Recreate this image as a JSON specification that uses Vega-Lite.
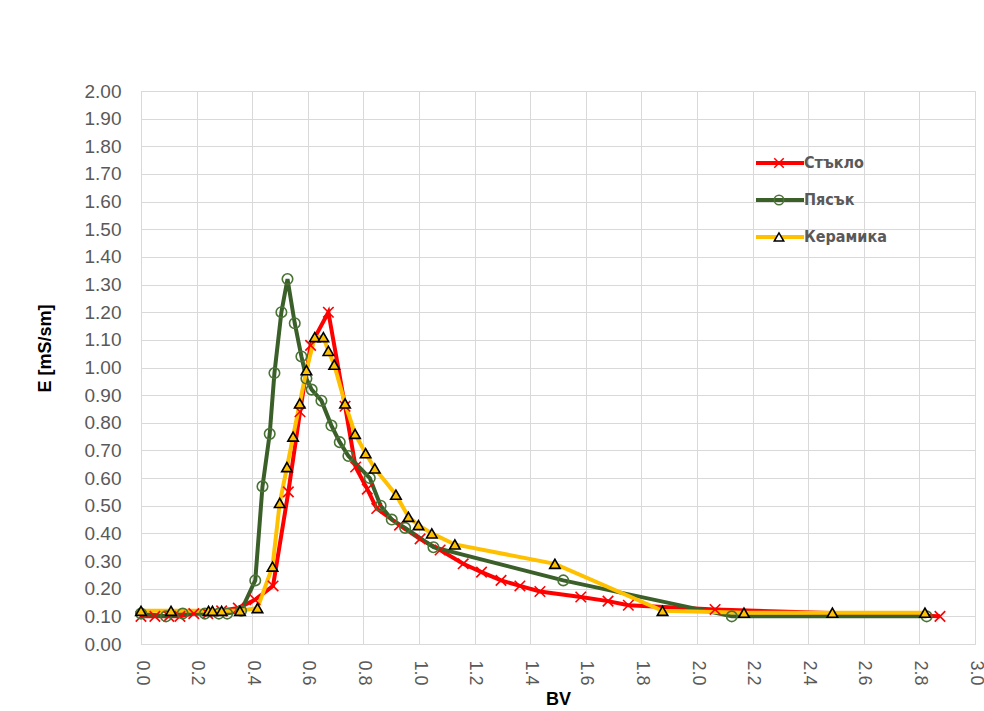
{
  "$schema": "https://vega.github.io/schema/vega-lite/v6.json",
  "width": 834,
  "height": 553,
  "autosize": {"type": "none"},
  "padding": {"left": 141, "top": 91, "right": 9, "bottom": 67},
  "background": "white",
  "config": {
    "view": {"stroke": "#D9D9D9", "strokeWidth": 1},
    "axis": {
      "grid": true,
      "gridColor": "#D9D9D9",
      "gridWidth": 1,
      "domain": false,
      "ticks": false,
      "labelFont": "Liberation Sans",
      "labelFontSize": 19,
      "labelColor": "#595959",
      "titleFont": "Liberation Sans",
      "titleFontWeight": "bold",
      "titleColor": "#000000"
    }
  },
  "data": {
    "values": [
      {"series": "Стъкло", "BV": 0.00, "E": 0.10},
      {"series": "Стъкло", "BV": 0.05, "E": 0.10},
      {"series": "Стъкло", "BV": 0.10, "E": 0.10},
      {"series": "Стъкло", "BV": 0.14, "E": 0.10},
      {"series": "Стъкло", "BV": 0.19, "E": 0.11},
      {"series": "Стъкло", "BV": 0.24, "E": 0.11},
      {"series": "Стъкло", "BV": 0.29, "E": 0.12},
      {"series": "Стъкло", "BV": 0.35, "E": 0.13},
      {"series": "Стъкло", "BV": 0.41, "E": 0.16},
      {"series": "Стъкло", "BV": 0.475, "E": 0.21},
      {"series": "Стъкло", "BV": 0.53, "E": 0.55},
      {"series": "Стъкло", "BV": 0.572, "E": 0.84},
      {"series": "Стъкло", "BV": 0.61, "E": 1.08},
      {"series": "Стъкло", "BV": 0.674, "E": 1.20},
      {"series": "Стъкло", "BV": 0.734, "E": 0.86},
      {"series": "Стъкло", "BV": 0.772, "E": 0.64},
      {"series": "Стъкло", "BV": 0.814, "E": 0.56},
      {"series": "Стъкло", "BV": 0.848, "E": 0.49},
      {"series": "Стъкло", "BV": 0.93, "E": 0.43},
      {"series": "Стъкло", "BV": 1.004, "E": 0.38},
      {"series": "Стъкло", "BV": 1.076, "E": 0.34},
      {"series": "Стъкло", "BV": 1.159, "E": 0.29},
      {"series": "Стъкло", "BV": 1.225, "E": 0.26},
      {"series": "Стъкло", "BV": 1.295, "E": 0.23},
      {"series": "Стъкло", "BV": 1.363, "E": 0.21},
      {"series": "Стъкло", "BV": 1.435, "E": 0.19},
      {"series": "Стъкло", "BV": 1.582, "E": 0.17},
      {"series": "Стъкло", "BV": 1.68, "E": 0.155},
      {"series": "Стъкло", "BV": 1.753, "E": 0.14},
      {"series": "Стъкло", "BV": 2.065, "E": 0.125},
      {"series": "Стъкло", "BV": 2.874, "E": 0.10},
      {"series": "Пясък", "BV": 0.00, "E": 0.11},
      {"series": "Пясък", "BV": 0.09, "E": 0.10},
      {"series": "Пясък", "BV": 0.15, "E": 0.11},
      {"series": "Пясък", "BV": 0.23, "E": 0.11},
      {"series": "Пясък", "BV": 0.28, "E": 0.11},
      {"series": "Пясък", "BV": 0.31, "E": 0.11},
      {"series": "Пясък", "BV": 0.36, "E": 0.12},
      {"series": "Пясък", "BV": 0.411, "E": 0.23},
      {"series": "Пясък", "BV": 0.437, "E": 0.57},
      {"series": "Пясък", "BV": 0.463, "E": 0.76},
      {"series": "Пясък", "BV": 0.48, "E": 0.98},
      {"series": "Пясък", "BV": 0.505, "E": 1.20},
      {"series": "Пясък", "BV": 0.527, "E": 1.32},
      {"series": "Пясък", "BV": 0.553, "E": 1.16},
      {"series": "Пясък", "BV": 0.577, "E": 1.04},
      {"series": "Пясък", "BV": 0.595, "E": 0.96},
      {"series": "Пясък", "BV": 0.614, "E": 0.92},
      {"series": "Пясък", "BV": 0.649, "E": 0.88},
      {"series": "Пясък", "BV": 0.685, "E": 0.79},
      {"series": "Пясък", "BV": 0.715, "E": 0.73},
      {"series": "Пясък", "BV": 0.746, "E": 0.68},
      {"series": "Пясък", "BV": 0.823, "E": 0.60},
      {"series": "Пясък", "BV": 0.862, "E": 0.50},
      {"series": "Пясък", "BV": 0.902, "E": 0.45},
      {"series": "Пясък", "BV": 0.95, "E": 0.42},
      {"series": "Пясък", "BV": 1.052, "E": 0.35},
      {"series": "Пясък", "BV": 1.519, "E": 0.23},
      {"series": "Пясък", "BV": 2.125, "E": 0.10},
      {"series": "Пясък", "BV": 2.826, "E": 0.10},
      {"series": "Керамика", "BV": 0.00, "E": 0.12},
      {"series": "Керамика", "BV": 0.108, "E": 0.12},
      {"series": "Керамика", "BV": 0.243, "E": 0.12},
      {"series": "Керамика", "BV": 0.257, "E": 0.12},
      {"series": "Керамика", "BV": 0.29, "E": 0.12},
      {"series": "Керамика", "BV": 0.356, "E": 0.12},
      {"series": "Керамика", "BV": 0.419, "E": 0.13},
      {"series": "Керамика", "BV": 0.473, "E": 0.28},
      {"series": "Керамика", "BV": 0.499, "E": 0.51},
      {"series": "Керамика", "BV": 0.525, "E": 0.64},
      {"series": "Керамика", "BV": 0.547, "E": 0.75},
      {"series": "Керамика", "BV": 0.571, "E": 0.87},
      {"series": "Керамика", "BV": 0.595, "E": 0.99},
      {"series": "Керамика", "BV": 0.625, "E": 1.11},
      {"series": "Керамика", "BV": 0.656, "E": 1.11},
      {"series": "Керамика", "BV": 0.674, "E": 1.06},
      {"series": "Керамика", "BV": 0.695, "E": 1.01},
      {"series": "Керамика", "BV": 0.734, "E": 0.87},
      {"series": "Керамика", "BV": 0.77, "E": 0.76},
      {"series": "Керамика", "BV": 0.808, "E": 0.69},
      {"series": "Керамика", "BV": 0.841, "E": 0.635},
      {"series": "Керамика", "BV": 0.917, "E": 0.54},
      {"series": "Керамика", "BV": 0.962, "E": 0.46},
      {"series": "Керамика", "BV": 0.998, "E": 0.43},
      {"series": "Керамика", "BV": 1.046, "E": 0.40},
      {"series": "Керамика", "BV": 1.129, "E": 0.36},
      {"series": "Керамика", "BV": 1.489, "E": 0.29},
      {"series": "Керамика", "BV": 1.876, "E": 0.12},
      {"series": "Керамика", "BV": 2.169, "E": 0.113},
      {"series": "Керамика", "BV": 2.487, "E": 0.113},
      {"series": "Керамика", "BV": 2.82, "E": 0.113}
    ]
  },
  "encoding": {
    "x": {
      "field": "BV",
      "type": "quantitative",
      "scale": {"domain": [0, 3], "nice": false, "zero": false},
      "axis": {
        "title": "BV",
        "values": [0, 0.2, 0.4, 0.6, 0.8, 1.0, 1.2, 1.4, 1.6, 1.8, 2.0, 2.2, 2.4, 2.6, 2.8, 3.0],
        "format": ".1f",
        "labelAngle": 90,
        "labelPadding": 16,
        "labelFontSize": 18,
        "labelFlush": false,
        "labelOverlap": false,
        "titleFontSize": 18,
        "titlePadding": 5
      }
    },
    "y": {
      "field": "E",
      "type": "quantitative",
      "scale": {"domain": [0, 2], "nice": false},
      "axis": {
        "title": "E [mS/sm]",
        "values": [0, 0.1, 0.2, 0.3, 0.4, 0.5, 0.6, 0.7, 0.8, 0.9, 1.0, 1.1, 1.2, 1.3, 1.4, 1.5, 1.6, 1.7, 1.8, 1.9, 2.0],
        "format": ".2f",
        "labelPadding": 20,
        "labelFlush": false,
        "labelOverlap": false,
        "titleFontSize": 18,
        "titleAngle": -90,
        "titleX": -96,
        "titleY": 257,
        "titleAlign": "center",
        "titleBaseline": "middle"
      }
    }
  },
  "layer": [
    {
      "mark": {"type": "line", "strokeWidth": 4},
      "encoding": {
        "color": {
          "field": "series",
          "type": "nominal",
          "scale": {"domain": ["Стъкло", "Пясък", "Керамика"], "range": ["#FF0000", "#3B5F28", "#FFC000"]},
          "legend": {
            "title": null,
            "orient": "none",
            "legendX": 631,
            "legendY": 64,
            "padding": 0,
            "symbolType": "M-6,0H6",
            "symbolSize": 64,
            "symbolStrokeWidth": 4,
            "labelOffset": 16,
            "labelFont": "DejaVu Sans Condensed, Liberation Sans",
            "labelFontSize": 16,
            "labelFontWeight": "bold",
            "labelColor": "#595959",
            "rowPadding": 21
          }
        }
      }
    },
    {
      "mark": {"type": "point", "size": 110, "strokeWidth": 1.6, "opacity": 1},
      "encoding": {
        "shape": {
          "field": "series",
          "type": "nominal",
          "sort": ["Стъкло", "Пясък", "Керамика"],
          "scale": {"range": ["M-1,-1L1,1M-1,1L1,-1", "circle", "triangle-up"]},
          "legend": {
            "title": null,
            "orient": "none",
            "legendX": 630,
            "legendY": 64,
            "padding": 0,
            "symbolSize": 90,
            "symbolStrokeWidth": 1.5,
            "symbolOpacity": 1,
            "symbolStrokeColor": {"expr": "datum.value === 'Стъкло' ? '#FF0000' : datum.value === 'Пясък' ? '#4A7336' : '#000000'"},
            "symbolFillColor": {"expr": "datum.value === 'Керамика' ? '#FFFFFF' : 'transparent'"},
            "labelExpr": "''",
            "labelFontSize": 16,
            "rowPadding": 21
          }
        },
        "stroke": {
          "field": "series",
          "type": "nominal",
          "sort": ["Стъкло", "Пясък", "Керамика"],
          "scale": {"range": ["#FF0000", "#4A7336", "#000000"]},
          "legend": null
        },
        "fill": {
          "field": "series",
          "type": "nominal",
          "sort": ["Стъкло", "Пясък", "Керамика"],
          "scale": {"range": ["transparent", "transparent", "#FFC000"]},
          "legend": null
        }
      }
    }
  ]
}
